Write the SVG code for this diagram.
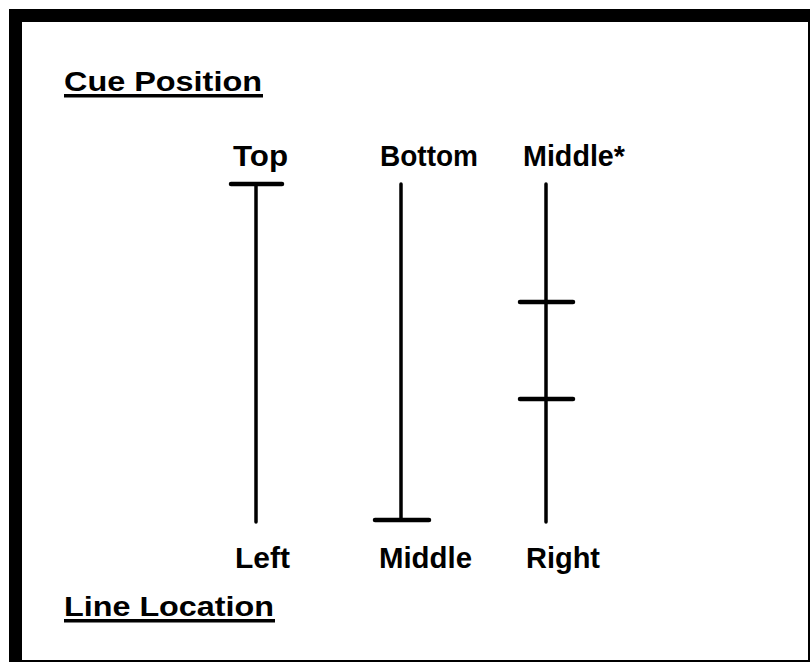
<svg xmlns="http://www.w3.org/2000/svg" width="810" height="662" viewBox="0 0 810 662">
<style>
.lbl{font-family:"Liberation Sans",Arial,sans-serif;font-weight:bold;font-size:29px;fill:#000}
.hd{font-family:"Liberation Sans",Arial,sans-serif;font-weight:900;font-size:28px;fill:#000}
.ln{stroke:#000;stroke-width:3.5;stroke-linecap:round;fill:none}
.bar{stroke:#000;stroke-width:4.5;stroke-linecap:round;fill:none}
</style>
<rect x="0" y="0" width="810" height="662" fill="#fff"/>
<g id="frame">
<rect x="9" y="9" width="801" height="653" fill="#000"/>
<rect x="22" y="22" width="786" height="638" fill="#fff"/>
</g>
<g id="heading-cue">
<text class="hd" x="64" y="91" textLength="198" lengthAdjust="spacingAndGlyphs">Cue Position</text>
<rect x="64" y="94" width="199" height="3.5" fill="#000"/>
</g>
<g id="heading-line">
<text class="hd" x="64" y="616" textLength="210" lengthAdjust="spacingAndGlyphs">Line Location</text>
<rect x="64" y="619" width="211" height="3.5" fill="#000"/>
</g>
<g id="node-left">
<text class="lbl" x="233" y="166" textLength="55" lengthAdjust="spacingAndGlyphs">Top</text>
<text class="lbl" x="235" y="568" textLength="55" lengthAdjust="spacingAndGlyphs">Left</text>
</g>
<g id="node-middle">
<text class="lbl" x="380" y="166" textLength="98" lengthAdjust="spacingAndGlyphs">Bottom</text>
<text class="lbl" x="379" y="568" textLength="93" lengthAdjust="spacingAndGlyphs">Middle</text>
</g>
<g id="node-right">
<text class="lbl" x="523" y="166" textLength="102" lengthAdjust="spacingAndGlyphs">Middle*</text>
<text class="lbl" x="526" y="568" textLength="74" lengthAdjust="spacingAndGlyphs">Right</text>
</g>
<g id="connectors">
<line class="ln" x1="256" y1="184" x2="256" y2="522"/>
<line class="bar" x1="231" y1="184" x2="282" y2="184"/>
<line class="ln" x1="401" y1="184" x2="401" y2="520"/>
<line class="bar" x1="375" y1="520" x2="429" y2="520"/>
<line class="ln" x1="546" y1="184" x2="546" y2="522"/>
<line class="bar" x1="520" y1="302" x2="573" y2="302"/>
<line class="bar" x1="520" y1="399" x2="573" y2="399"/>
</g>
</svg>
